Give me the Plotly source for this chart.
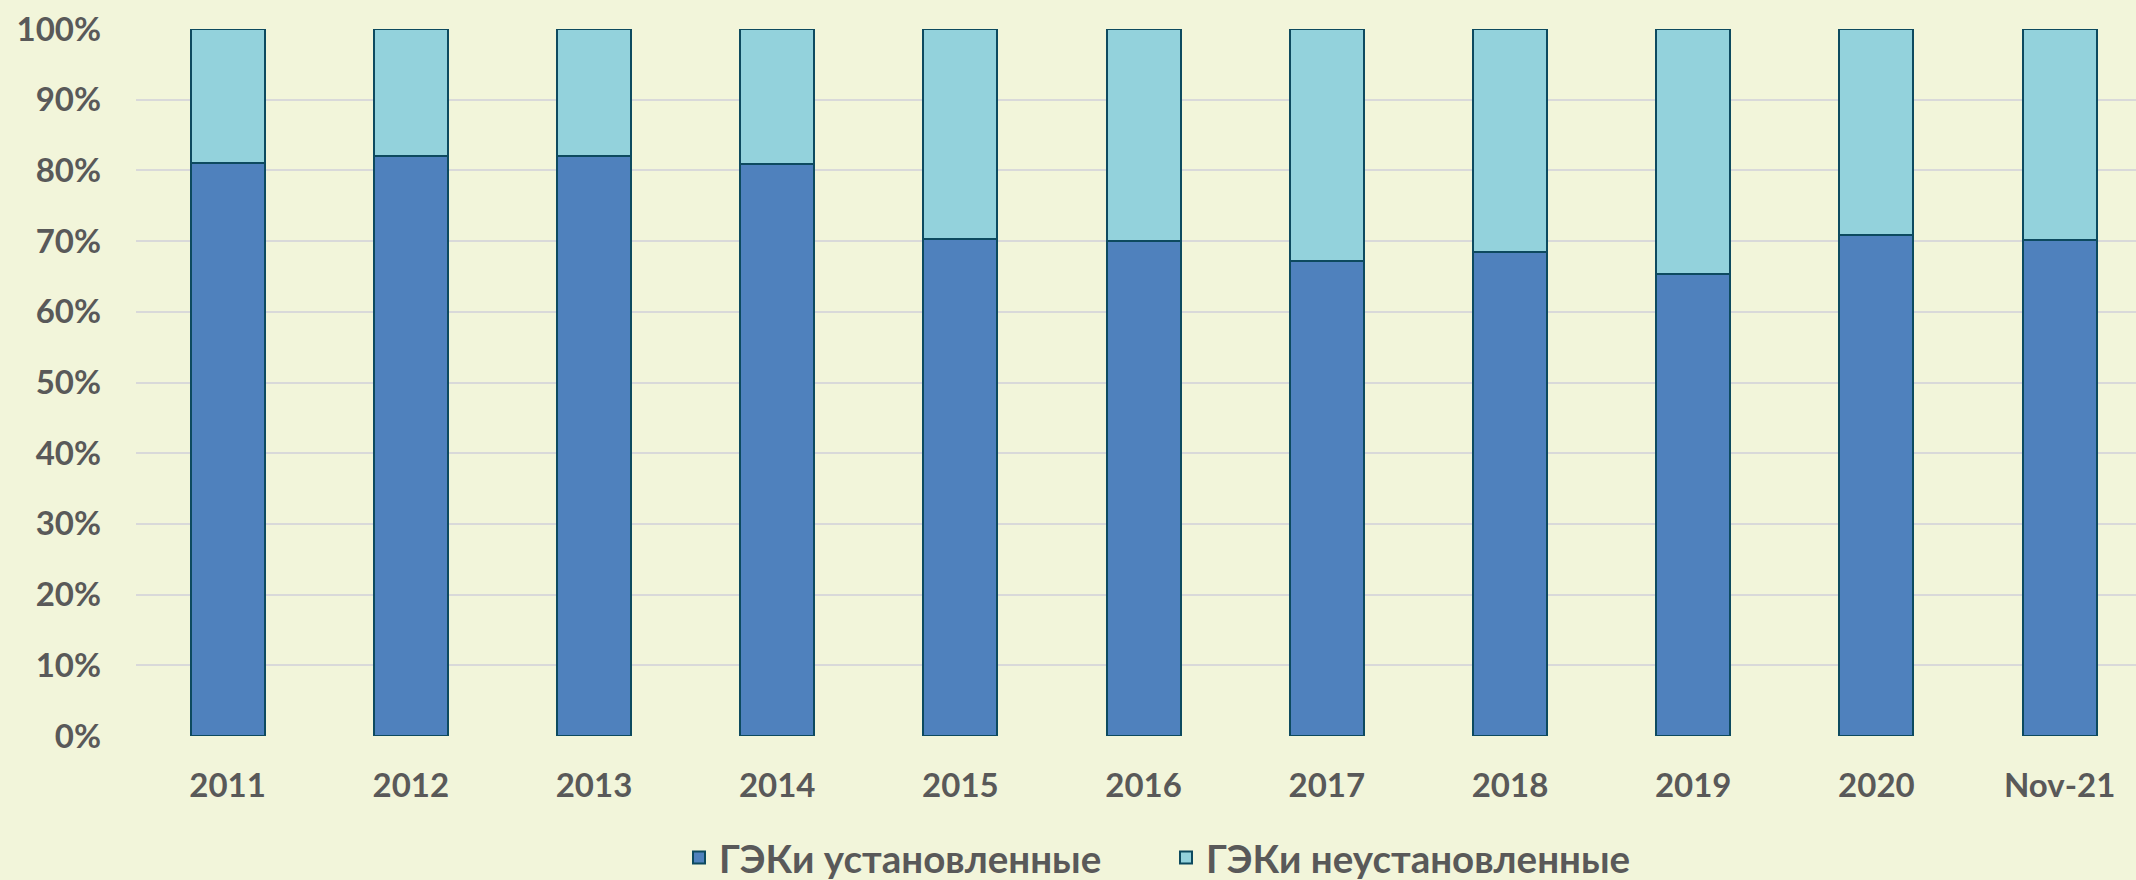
import plotly.graph_objects as go

categories = ["2011", "2012", "2013", "2014", "2015", "2016", "2017", "2018", "2019", "2020", "Nov-21"]
installed = [81.1, 82.0, 82.0, 80.9, 70.3, 70.0, 67.2, 68.4, 65.4, 70.9, 70.2]
not_installed = [round(100 - v, 1) for v in installed]
series_names = ["ГЭКи установленные", "ГЭКи неустановленные"]
y_ticks = [0, 10, 20, 30, 40, 50, 60, 70, 80, 90, 100]
y_tick_labels = [f"{t}%" for t in y_ticks]

bg = "#f2f5da"
text_col = "#595959"
font_family = "Lato, 'Open Sans', sans-serif"

fig = go.Figure()
fig.add_trace(go.Bar(
    x=categories, y=installed, name=series_names[0],
    marker=dict(color="#4f81bd", line=dict(color="#0d4a5f", width=2)),
    width=0.404,
))
fig.add_trace(go.Bar(
    x=categories, y=not_installed, name=series_names[1],
    marker=dict(color="#93d2dc", line=dict(color="#0d4a5f", width=2)),
    width=0.404,
))

fig.update_layout(
    barmode="stack",
    width=2136, height=880,
    paper_bgcolor=bg, plot_bgcolor=bg,
    margin=dict(l=136, r=0, t=29, b=144, autoexpand=False),
    font=dict(family=font_family, size=33, color=text_col, weight="bold"),
    showlegend=True,
    legend=dict(
        orientation="h", xanchor="center", x=0.515, yanchor="middle",
        yref="container", y=0.025,
        traceorder="normal",
        font=dict(size=38.5, color=text_col, family=font_family, weight="bold"),
        entrywidth=442, bgcolor="rgba(0,0,0,0)",
    ),
)
fig.update_xaxes(
    type="category", range=[-0.5, 10.417],
    showgrid=False, showline=False, zeroline=False,
    ticks="", ticklabelstandoff=27, automargin=False,
    tickfont=dict(size=33, color=text_col, family=font_family, weight="bold"),
)
fig.update_yaxes(
    range=[0, 100], tickvals=y_ticks, ticktext=y_tick_labels,
    showgrid=True, gridcolor="#d9d9d9", gridwidth=2, automargin=False,
    zeroline=False, showline=False, ticks="", ticklabelstandoff=34,
    tickfont=dict(size=33, color=text_col, family=font_family, weight="bold"),
)

fig.write_html(
    "out.html",
    config={"displayModeBar": False},
    post_script="document.body.style.margin='0';document.body.style.overflow='hidden';document.body.style.background='#f2f5da';",
)
